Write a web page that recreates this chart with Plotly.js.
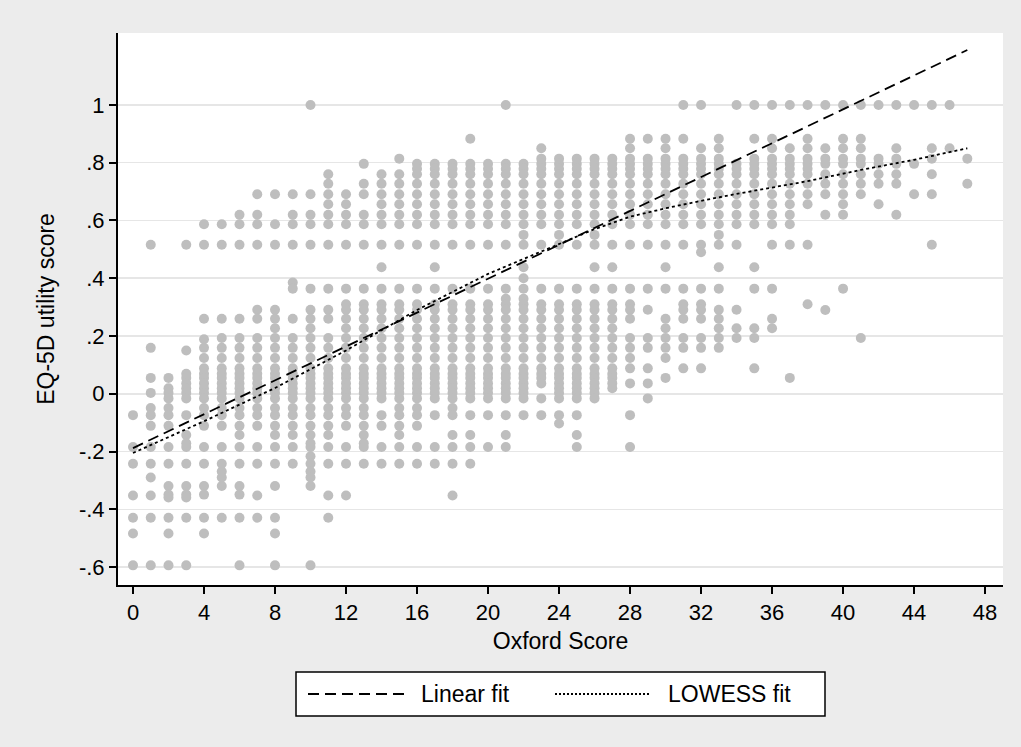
<!DOCTYPE html>
<html>
<head>
<meta charset="utf-8">
<script src="https://cdn.plot.ly/plotly-3.0.1.min.js"></script>
<style>
html,body{margin:0;padding:0;background:#ffffff;}
#chart{width:1021px;height:747px;}
</style>
</head>
<body>
<div id="chart"></div>
<script>
// Oxford score categories (x)
const oxfordScores = [0,1,2,3,4,5,6,7,8,9,10,11,12,13,14,15,16,17,18,19,20,21,22,23,24,25,26,27,28,29,30,31,32,33,34,35,36,37,38,39,40,41,42,43,44,45,46,47];

const eq5dByScore = [
/*0*/ [-0.074,-0.184,-0.242,-0.352,-0.429,-0.484,-0.594],
/*1*/ [0.516,0.159,0.055,0.003,-0.049,-0.074,-0.111,-0.184,-0.242,-0.29,-0.352,-0.429,-0.594],
/*2*/ [0.055,0.019,0.003,-0.016,-0.049,-0.074,-0.111,-0.184,-0.242,-0.319,-0.349,-0.359,-0.429,-0.484,-0.594],
/*3*/ [0.516,0.15,0.069,0.055,0.036,0.019,0.003,-0.016,-0.074,-0.143,-0.171,-0.184,-0.242,-0.319,-0.349,-0.359,-0.429,-0.594],
/*4*/ [0.587,0.516,0.26,0.189,0.159,0.124,0.088,0.069,0.055,0.036,0.019,0.003,-0.016,-0.049,-0.074,-0.111,-0.184,-0.242,-0.319,-0.349,-0.429,-0.484],
/*5*/ [0.587,0.516,0.26,0.193,0.159,0.124,0.088,0.069,0.055,0.036,0.019,0.003,-0.016,-0.049,-0.074,-0.111,-0.184,-0.242,-0.269,-0.29,-0.319,-0.429],
/*6*/ [0.62,0.587,0.516,0.26,0.193,0.159,0.124,0.088,0.069,0.055,0.036,0.019,0.003,-0.016,-0.049,-0.074,-0.111,-0.143,-0.184,-0.242,-0.319,-0.349,-0.429,-0.594],
/*7*/ [0.691,0.62,0.587,0.516,0.291,0.26,0.193,0.159,0.124,0.088,0.069,0.055,0.036,0.019,0.003,-0.016,-0.049,-0.074,-0.111,-0.184,-0.242,-0.352,-0.429],
/*8*/ [0.691,0.587,0.516,0.291,0.26,0.227,0.193,0.159,0.124,0.088,0.069,0.055,0.036,0.019,0.003,-0.016,-0.049,-0.074,-0.111,-0.143,-0.184,-0.242,-0.319,-0.429,-0.484,-0.594],
/*9*/ [0.691,0.62,0.587,0.516,0.385,0.364,0.26,0.193,0.159,0.124,0.088,0.069,0.055,0.036,0.019,0.003,-0.016,-0.049,-0.074,-0.111,-0.143,-0.184,-0.242],
/*10*/ [1,0.691,0.62,0.587,0.516,0.364,0.291,0.26,0.227,0.193,0.159,0.124,0.088,0.069,0.055,0.036,0.019,0.003,-0.016,-0.049,-0.074,-0.111,-0.143,-0.171,-0.184,-0.216,-0.242,-0.269,-0.29,-0.319,-0.594],
/*11*/ [0.76,0.727,0.691,0.656,0.62,0.587,0.516,0.364,0.291,0.26,0.193,0.159,0.124,0.088,0.069,0.055,0.036,0.019,0.003,-0.016,-0.049,-0.074,-0.111,-0.143,-0.184,-0.242,-0.352,-0.429],
/*12*/ [0.691,0.656,0.62,0.587,0.516,0.364,0.31,0.291,0.26,0.227,0.193,0.159,0.124,0.088,0.069,0.055,0.036,0.019,0.003,-0.016,-0.049,-0.074,-0.111,-0.184,-0.242,-0.352],
/*13*/ [0.796,0.727,0.691,0.62,0.587,0.516,0.364,0.31,0.291,0.26,0.227,0.193,0.159,0.124,0.088,0.069,0.055,0.036,0.019,0.003,-0.016,-0.049,-0.074,-0.111,-0.143,-0.171,-0.184,-0.242],
/*14*/ [0.76,0.727,0.691,0.656,0.62,0.587,0.516,0.438,0.364,0.31,0.291,0.26,0.227,0.193,0.159,0.124,0.088,0.069,0.055,0.036,0.019,0.003,-0.016,-0.074,-0.111,-0.184,-0.242],
/*15*/ [0.814,0.76,0.727,0.691,0.656,0.62,0.587,0.516,0.364,0.31,0.291,0.26,0.227,0.193,0.159,0.124,0.088,0.069,0.055,0.036,0.019,0.003,-0.016,-0.049,-0.074,-0.111,-0.143,-0.184,-0.242],
/*16*/ [0.796,0.779,0.76,0.727,0.691,0.656,0.62,0.587,0.516,0.364,0.31,0.291,0.26,0.227,0.193,0.159,0.124,0.088,0.069,0.055,0.036,0.019,0.003,-0.016,-0.049,-0.074,-0.111,-0.184,-0.242],
/*17*/ [0.796,0.779,0.76,0.727,0.691,0.656,0.62,0.587,0.516,0.438,0.364,0.31,0.291,0.26,0.227,0.193,0.159,0.124,0.088,0.069,0.055,0.036,0.019,0.003,-0.016,-0.074,-0.184,-0.242],
/*18*/ [0.796,0.779,0.76,0.727,0.691,0.656,0.62,0.587,0.516,0.364,0.31,0.291,0.26,0.227,0.193,0.159,0.124,0.088,0.069,0.055,0.036,0.019,0.003,-0.016,-0.049,-0.074,-0.143,-0.184,-0.242,-0.352],
/*19*/ [0.883,0.796,0.779,0.76,0.727,0.691,0.656,0.62,0.587,0.516,0.364,0.31,0.291,0.26,0.227,0.193,0.159,0.124,0.088,0.069,0.055,0.036,0.019,0.003,-0.016,-0.074,-0.143,-0.184,-0.242],
/*20*/ [0.796,0.779,0.76,0.727,0.691,0.656,0.62,0.587,0.516,0.364,0.31,0.291,0.26,0.227,0.193,0.159,0.124,0.088,0.069,0.055,0.036,0.019,0.003,-0.016,-0.074,-0.184],
/*21*/ [1,0.796,0.779,0.76,0.727,0.691,0.656,0.62,0.587,0.516,0.364,0.329,0.31,0.291,0.26,0.227,0.193,0.159,0.124,0.088,0.069,0.055,0.036,0.019,0.003,-0.016,-0.074,-0.143,-0.184],
/*22*/ [0.796,0.779,0.76,0.727,0.691,0.656,0.62,0.587,0.55,0.516,0.438,0.4,0.364,0.329,0.31,0.291,0.26,0.227,0.193,0.159,0.124,0.088,0.069,0.055,0.036,0.019,0.003,-0.016,-0.074],
/*23*/ [0.85,0.814,0.796,0.779,0.76,0.727,0.691,0.656,0.62,0.587,0.516,0.364,0.31,0.291,0.26,0.227,0.193,0.159,0.124,0.088,0.069,0.055,0.036,-0.016,-0.074],
/*24*/ [0.814,0.796,0.779,0.76,0.727,0.691,0.656,0.62,0.587,0.55,0.516,0.364,0.31,0.291,0.26,0.227,0.193,0.159,0.124,0.088,0.069,0.055,0.036,0.019,0.003,-0.016,-0.074,-0.103],
/*25*/ [0.814,0.796,0.779,0.76,0.727,0.691,0.656,0.62,0.587,0.516,0.364,0.31,0.291,0.26,0.227,0.193,0.159,0.124,0.088,0.069,0.055,0.036,0.019,0.003,-0.016,-0.074,-0.143,-0.184],
/*26*/ [0.814,0.796,0.779,0.76,0.727,0.691,0.656,0.62,0.587,0.55,0.516,0.438,0.364,0.31,0.291,0.26,0.227,0.193,0.159,0.124,0.088,0.069,0.055,0.036,0.019,0.003,-0.016],
/*27*/ [0.814,0.796,0.779,0.76,0.727,0.691,0.656,0.62,0.587,0.516,0.438,0.364,0.31,0.291,0.26,0.227,0.193,0.159,0.124,0.088,0.069,0.055,0.036,0.019],
/*28*/ [0.883,0.85,0.814,0.796,0.779,0.76,0.727,0.691,0.656,0.62,0.587,0.516,0.364,0.31,0.291,0.26,0.193,0.159,0.124,0.088,0.036,-0.074,-0.184],
/*29*/ [0.883,0.814,0.796,0.779,0.76,0.727,0.691,0.656,0.62,0.587,0.516,0.364,0.291,0.193,0.159,0.088,0.036,-0.016],
/*30*/ [0.883,0.85,0.814,0.796,0.779,0.76,0.727,0.691,0.656,0.62,0.587,0.516,0.438,0.364,0.26,0.227,0.193,0.159,0.124,0.055],
/*31*/ [1,0.883,0.814,0.796,0.779,0.76,0.727,0.691,0.656,0.62,0.587,0.516,0.364,0.31,0.291,0.26,0.193,0.159,0.088],
/*32*/ [1,0.85,0.814,0.796,0.779,0.76,0.727,0.691,0.656,0.62,0.587,0.516,0.49,0.364,0.31,0.291,0.26,0.193,0.159,0.088],
/*33*/ [0.883,0.85,0.814,0.796,0.779,0.76,0.727,0.691,0.656,0.62,0.587,0.55,0.516,0.438,0.364,0.291,0.26,0.227,0.193,0.159],
/*34*/ [1,0.796,0.779,0.76,0.727,0.691,0.656,0.62,0.587,0.516,0.291,0.227,0.193],
/*35*/ [1,0.883,0.814,0.796,0.779,0.76,0.727,0.691,0.656,0.62,0.587,0.438,0.364,0.227,0.193,0.088],
/*36*/ [1,0.883,0.85,0.814,0.796,0.779,0.76,0.727,0.691,0.656,0.62,0.587,0.516,0.364,0.26,0.227],
/*37*/ [1,0.85,0.814,0.796,0.779,0.76,0.727,0.691,0.656,0.62,0.587,0.516,0.055],
/*38*/ [1,0.883,0.85,0.814,0.796,0.779,0.76,0.727,0.691,0.656,0.516,0.31],
/*39*/ [1,0.85,0.814,0.796,0.76,0.727,0.691,0.62,0.29],
/*40*/ [1,0.883,0.85,0.814,0.796,0.76,0.727,0.691,0.656,0.62,0.364],
/*41*/ [1,0.883,0.85,0.814,0.796,0.76,0.727,0.691,0.193],
/*42*/ [1,0.814,0.796,0.76,0.727,0.656],
/*43*/ [1,0.85,0.814,0.796,0.76,0.727,0.62],
/*44*/ [1,0.796,0.691],
/*45*/ [1,0.85,0.814,0.76,0.691,0.516],
/*46*/ [1,0.85],
/*47*/ [0.814,0.727]
];

// Linear fit (end points of fitted line)
const linearX = [0, 47];
const linearY = [-0.188, 1.19];

// LOWESS fit
const lowessX = [0, 4, 8, 12, 14, 16, 20, 24, 26, 28, 30, 32, 34, 38, 41, 44, 47];
const lowessY = [-0.205, -0.095, 0.02, 0.15, 0.22, 0.29, 0.415, 0.52, 0.57, 0.613, 0.642, 0.668, 0.692, 0.736, 0.775, 0.81, 0.85];

// Tick labels
const xTickVals = [0,4,8,12,16,20,24,28,32,36,40,44,48];
const yTickVals = [-0.6,-0.4,-0.2,0,0.2,0.4,0.6,0.8,1];
const yTickText = ['-.6','-.4','-.2','0','.2','.4','.6','.8','1'];

const legendLabels = ['Linear fit', 'LOWESS fit'];

// flatten scatter
const scatX = [], scatY = [];
oxfordScores.forEach((s, i) => {
  eq5dByScore[i].forEach(v => { scatX.push(s); scatY.push(v); });
});

const FONT = 'Liberation Sans, Arial, sans-serif';
const W = 1021, H = 747;
const PL = 118, PR = 1003, PT = 33, PB = 585;
const px = x => (x - PL) / (PR - PL);
const py = y => (PB - y) / (PB - PT);

const traces = [
  {type:'scatter', mode:'markers', x:scatX, y:scatY,
   marker:{color:'#bebebe', size:10, line:{width:0}}, hoverinfo:'x+y', showlegend:false},
  {type:'scatter', mode:'lines', x:linearX, y:linearY, name:legendLabels[0],
   line:{color:'#000', width:1.8, dash:'11px,6px'}, showlegend:false},
  {type:'scatter', mode:'lines', x:lowessX, y:lowessY, name:legendLabels[1],
   line:{color:'#000', width:1.8, dash:'3px,3px'}, showlegend:false}
];

const layout = {
  width: W, height: H,
  margin:{l:PL, r:W-PR, t:PT, b:H-PB, pad:0},
  paper_bgcolor:'#ececec',
  plot_bgcolor:'#ffffff',
  font:{family:FONT, color:'#000', size:22},
  showlegend:false,
  xaxis:{
    range:[-0.845, 49.01], tickvals:xTickVals, ticktext:xTickVals.map(String),
    showline:true, linecolor:'#000', linewidth:2, ticks:'outside', ticklen:7, tickwidth:2, tickcolor:'#000',
    showgrid:false, zeroline:false, tickfont:{size:22, family:FONT},
    title:{text:'Oxford Score', font:{size:23, family:FONT}, standoff:8}
  },
  yaxis:{
    range:[-0.662, 1.249], tickvals:yTickVals, ticktext:yTickText,
    showline:true, linecolor:'#000', linewidth:2, ticks:'outside', ticklen:7, tickwidth:2, tickcolor:'#000',
    showgrid:true, gridcolor:'#e6e6e6', gridwidth:1.5, zeroline:false, tickangle:0,
    tickfont:{size:22, family:FONT},
    title:{text:'EQ-5D utility score', font:{size:23, family:FONT}, standoff:18}
  },
  shapes:[
    {type:'rect', xref:'paper', yref:'paper', x0:px(296), x1:px(825), y0:py(716), y1:py(672),
     fillcolor:'#ffffff', line:{color:'#000', width:1.5}},
    {type:'line', xref:'paper', yref:'paper', x0:px(308), x1:px(405), y0:py(694), y1:py(694),
     line:{color:'#000', width:1.8, dash:'11px,6px'}},
    {type:'line', xref:'paper', yref:'paper', x0:px(555), x1:px(650), y0:py(694), y1:py(694),
     line:{color:'#000', width:1.8, dash:'2px,2px'}}
  ],
  annotations:[
    {xref:'paper', yref:'paper', x:px(419), y:py(694), xanchor:'left', yanchor:'middle', showarrow:false,
     text:legendLabels[0], font:{size:23, family:FONT}},
    {xref:'paper', yref:'paper', x:px(666), y:py(694), xanchor:'left', yanchor:'middle', showarrow:false,
     text:legendLabels[1], font:{size:23, family:FONT}}
  ]
};

Plotly.newPlot('chart', traces, layout, {displayModeBar:false, staticPlot:true});
</script>
</body>
</html>
